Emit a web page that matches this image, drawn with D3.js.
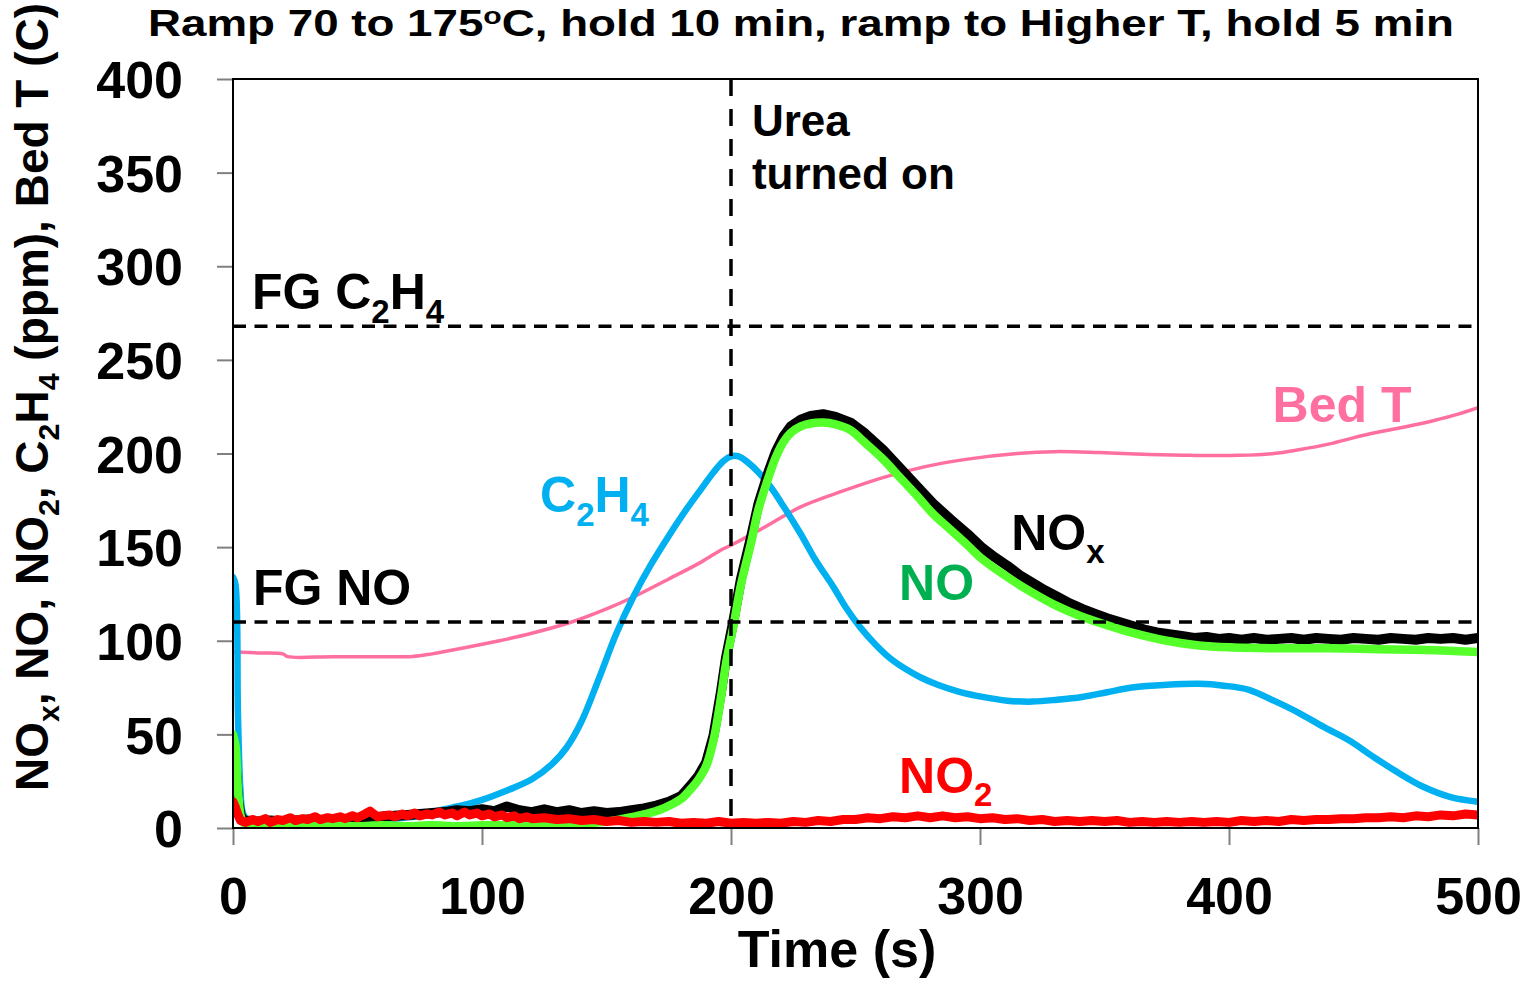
<!DOCTYPE html>
<html>
<head>
<meta charset="utf-8">
<script src="https://cdn.jsdelivr.net/npm/d3@7/dist/d3.min.js"></script>
<style>
  body { margin: 0; background: #fff; }
  text { font-family: "Liberation Sans", Arial, sans-serif; font-weight: bold; }
</style>
</head>
<body>
<svg id="chart" width="1526" height="981"></svg>
<script>
// ticks
var xTicks = [0, 100, 200, 300, 400, 500];
var yTicks = [0, 50, 100, 150, 200, 250, 300, 350, 400];

// reference lines
var fgNO = 110, fgC2H4 = 268, ureaOn = 200;

// [time (s), value]
var bedT = [[1,94],[10,93.5],[20,93],[22,91.5],[40,91.5],[60,91.5],[72,91.6],[80,93],[94,96.5],[107,100],[120,104],
  [136,110],[150,117],[161,123.5],[175,133],[188,142],[196,148.5],[200,151],[214,161],[228,171.5],[245,180],
  [262,187.5],[278,193],[295,197],[315,200],[330,201],[348,200.5],[368,199.5],[385,199],[404,199],[418,200],
  [428,202],[440,205],[455,210],[470,214],[482,217.5],[492,221],[500,224.5]];

var c2h4 = [[0,134],[1,130],[2,60],[3,20],[4,8],[6,4],[10,3],[20,3],[40,3.5],[60,4.5],[75,6.5],[83,9.5],[92,12],
  [100,15],[110,20],[120,26],[128,34],[134,43],[140,57],[147,80],[154,104],[161,124],[168,141],[175,156],
  [182,170],[188,181],[193,190],[197,196],[200,198.5],[203,198.5],[207,195],[211,190],[216,182],[221,172],
  [228,157],[234,143],[241,129],[246,118],[252,107],[258,98],[264,90.5],[270,85],[276,80.5],[283,76.5],[291,73],
  [301,70],[311,68],[321,67.5],[331,68.5],[341,70],[351,72.5],[361,75],[375,76.5],[388,77],[398,76],[408,73.8],
  [418,68],[428,61.5],[438,54],[448,47],[458,38],[468,29.5],[478,22],[489,16.5],[500,14]];

var nox = [[0,40],[1,35],[2,15],[3,7],[4,4.5],[5,4],[10,3.5],[15,4],[20,3.5],[25,4],[30,4.5],[35,4],[40,4.5],[45,4.5],
  [50,5],[55,6],[60,6],[65,6.5],[70,7],[75,7.5],[80,8],[85,8.5],[90,9.5],[95,9],[100,10],[105,9],[110,11.5],
  [115,9.5],[120,8.5],[125,10],[130,8.5],[135,9.5],[140,8],[145,9],[150,8],[155,8.5],[160,9.5],[165,10.5],[170,12],
  [175,14],[180,17],[184,23],[187,28],[190,35],[193,49.5],[196,73],[198,91],[201,111],[204,133],[208,155],[211,173],
  [215,190],[218,201],[221,209],[224,214.5],[228,218],[232,220],[237,221],[242,219.5],[248,216.5],[254,210.5],
  [261,202],[268,192],[275,182],[281,173.5],[288,165],[295,157],[301,149.5],[306,144.5],[311,140],[316,135],
  [321,131],[326,127],[331,123.5],[336,120],[341,117],[346,114.5],[351,112],[356,110],[361,108],[366,106],
  [371,104.5],[376,103.5],[381,102.5],[386,101.5],[391,102],[396,101],[400,101.5],[405,100.5],[410,101.5],
  [415,100.5],[420,101],[425,101.5],[430,100.5],[435,101.5],[440,101],[445,100.5],[450,101.5],[455,101],
  [460,100.5],[465,101.5],[470,101],[475,100.5],[480,101.5],[485,101],[490,101.5],[495,100.5],[500,101.5]];

var no = [[0,50],[1,44],[2,20],[3,7],[4,3],[6,1.5],[10,1],[20,1.5],[30,1],[40,1.5],[50,1],[60,1.5],[70,1],[80,1.5],
  [90,1],[100,1.5],[110,1.5],[120,1.5],[130,2],[140,2.5],[147,3],[155,4.5],[161,6],[166,7.5],[172,10],[176,12.5],
  [180,15.5],[184,21],[187,26],[190,33],[193,47],[196,70],[198,88],[201,108],[204,130],[208,152],[211,170],
  [215,187],[218,198],[221,206],[224,211],[228,214.5],[232,216],[237,216.5],[242,215.5],[248,212.5],[254,205.5],
  [261,197],[268,187],[275,177],[281,168],[288,159.5],[295,151],[301,143.5],[311,134],[321,125.7],[331,118.5],
  [341,112.8],[351,108.3],[361,104.3],[375,100],[388,97.5],[400,96.5],[420,96],[440,96],[460,95.5],[480,95],[500,94]];

var no2 = [[0,14],[1,11],[2,7],[3,4],[5,3],[8,4.5],[10,3.5],[13,5],[15,3],[18,4.5],[20,4],[23,5.5],[25,4],[28,5],
  [30,4.5],[33,6],[35,4.5],[38,5.5],[40,5],[43,6],[45,5],[48,6.5],[50,5.5],[53,7.5],[55,9],[58,6],[60,6.5],[63,7],
  [65,6],[68,7.5],[70,6.5],[73,8],[75,6.5],[78,7.5],[80,7],[83,8.5],[85,7],[88,8],[90,6.5],[93,8.5],[95,7],[98,8],
  [100,6.5],[103,7.5],[105,6],[108,7],[110,5.5],[113,6.5],[115,5],[118,6],[120,5],[125,5.5],[130,4.5],[135,5],
  [140,4],[145,4.5],[150,3.5],[155,4],[160,3],[165,3.5],[170,3],[175,3.5],[180,2.5],[185,3],[190,2.5],[195,3.5],
  [200,2.5],[205,3],[210,2.5],[215,3],[220,2.5],[225,3.5],[230,3],[235,4],[240,3.5],[245,4.5],[250,4.5],[255,5.5],
  [260,5],[265,6],[270,5.5],[275,6.5],[280,5.5],[285,6.5],[290,5.5],[295,6],[300,5],[305,5.5],[310,4.5],[315,5],
  [320,4],[325,4.5],[330,3.5],[335,4],[340,3.5],[345,4],[350,3.5],[355,4],[360,3],[365,3.5],[370,3],[375,3.5],
  [380,3],[385,3.5],[390,3],[395,3.5],[400,3],[405,4],[410,3.5],[415,4],[420,3.5],[425,4.5],[430,4],[435,4.5],
  [440,4.5],[445,5],[450,5],[455,5.5],[460,5.5],[465,6],[470,5.5],[475,6.5],[480,6],[485,7],[490,6.5],[495,7.5],[500,7]];

var svg = d3.select("#chart");
var plotL = 233, plotR = 1478, plotT = 79, plotB = 828;

var x = d3.scaleLinear().domain([0, 500]).range([plotL, plotR]);
var y = d3.scaleLinear().domain([0, 400]).range([plotB, plotT]);

svg.append("rect").attr("width", 1526).attr("height", 981).attr("fill", "#fff");

svg.append("clipPath").attr("id", "plotClip")
  .append("rect").attr("x", plotL).attr("y", plotT).attr("width", plotR - plotL).attr("height", plotB - plotT);

var plot = svg.append("g").attr("clip-path", "url(#plotClip)");

var smooth = d3.line().x(d => x(d[0])).y(d => y(d[1])).curve(d3.curveCatmullRom.alpha(0.5));
var rough = d3.line().x(d => x(d[0])).y(d => y(d[1]));

function series(data, gen, color, width) {
  plot.append("path")
    .datum(data)
    .attr("d", gen)
    .attr("fill", "none")
    .attr("stroke", color)
    .attr("stroke-width", width)
    .attr("stroke-linejoin", "round")
    .attr("stroke-linecap", "round");
}

series(bedT, smooth, "#FF6F9F", 3.5);
series(c2h4, smooth, "#00B0F0", 6.5);
series(nox, rough, "#000000", 10);
series(no, smooth, "#55FF2A", 8.5);
series(no2, rough, "#FF0000", 9);

// dashed reference lines
[fgC2H4, fgNO].forEach(v => {
  svg.append("line")
    .attr("x1", x(0)).attr("x2", x(500)).attr("y1", y(v)).attr("y2", y(v))
    .attr("stroke", "#000").attr("stroke-width", 3.5).attr("stroke-dasharray", "13,8.5");
});
svg.append("line")
  .attr("x1", x(ureaOn)).attr("x2", x(ureaOn)).attr("y1", y(400)).attr("y2", y(0))
  .attr("stroke", "#000").attr("stroke-width", 3.5).attr("stroke-dasharray", "17,13");

// axes
var xAxis = svg.append("g").attr("transform", "translate(0," + plotB + ")")
  .call(d3.axisBottom(x).tickValues(xTicks).tickSize(17).tickSizeOuter(0).tickPadding(32).tickFormat(d3.format("d")));
var yAxis = svg.append("g").attr("transform", "translate(" + plotL + ",0)")
  .call(d3.axisLeft(y).tickValues(yTicks).tickSize(16).tickSizeOuter(0).tickPadding(34).tickFormat(d3.format("d")));

[xAxis, yAxis].forEach(a => {
  a.select(".domain").remove();
  a.selectAll(".tick line").attr("stroke", "#808080").attr("stroke-width", 2);
  a.selectAll(".tick text").attr("fill", "#000").style("font-size", "52px")
    .style("font-family", "'Liberation Sans', Arial, sans-serif").style("font-weight", "bold");
});
yAxis.selectAll(".tick text").attr("dy", "0.36em");

svg.append("rect")
  .attr("x", plotL).attr("y", plotT).attr("width", plotR - plotL).attr("height", plotB - plotT)
  .attr("fill", "none").attr("stroke", "#000").attr("stroke-width", 2);

// text helpers: parts = [text, "sub" | "sup" | ""]
function richText(g, parts, size, subScale, shift) {
  parts.forEach((p, i) => {
    var t = g.append("tspan").text(p[0]);
    var prev = i > 0 ? parts[i - 1][1] : "";
    if (p[1] === "sub") t.style("font-size", (size * subScale) + "px").attr("dy", shift);
    else if (p[1] === "sup") t.style("font-size", (size * subScale) + "px").attr("dy", -shift);
    else {
      t.style("font-size", size + "px");
      if (prev === "sub") t.attr("dy", -shift);
      if (prev === "sup") t.attr("dy", shift);
    }
  });
  return g;
}

function label(tx, vy, parts, color, size) {
  var t = svg.append("text").attr("x", x(tx)).attr("y", y(vy)).attr("fill", color);
  richText(t, parts, size, 0.66, size * 0.27);
  return t;
}

label(7.6, 277, [["FG C", ""], ["2", "sub"], ["H", ""], ["4", "sub"]], "#000", 50);
label(8, 119, [["FG NO", ""]], "#000", 50);
label(208.4, 369.5, [["Urea", ""]], "#000", 44);
label(208.4, 341, [["turned on", ""]], "#000", 44);
label(123.3, 168.5, [["C", ""], ["2", "sub"], ["H", ""], ["4", "sub"]], "#00B0F0", 50);
label(417.5, 217, [["Bed T", ""]], "#FF6F9F", 50);
label(312.5, 148.7, [["NO", ""], ["x", "sub"]], "#000", 50);
label(267.5, 122, [["NO", ""]], "#00B050", 50);
label(267.5, 18.7, [["NO", ""], ["2", "sub"]], "#FF0000", 50);

// title, stretched to the width seen in the reference
var title = svg.append("text").attr("text-anchor", "middle");
richText(title, [["Ramp 70 to 175", ""], ["o", "sup"], ["C, hold 10 min, ramp to Higher T, hold 5 min", ""]], 37, 0.66, 12);
var tw = title.node().getComputedTextLength();
title.attr("transform", "translate(801,36) scale(" + (1306 / tw) + ",1)");

// axis titles
svg.append("text").attr("x", 837).attr("y", 967).attr("text-anchor", "middle")
  .style("font-size", "52px").text("Time (s)");

var yTitle = svg.append("text").attr("text-anchor", "middle")
  .attr("transform", "translate(48,397) rotate(-90)");
richText(yTitle, [["NO", ""], ["x", "sub"], [", NO, NO", ""], ["2", "sub"], [", C", ""], ["2", "sub"], ["H", ""], ["4", "sub"],
  [" (ppm), Bed T (C)", ""]], 46, 0.66, 11);
</script>
</body>
</html>
